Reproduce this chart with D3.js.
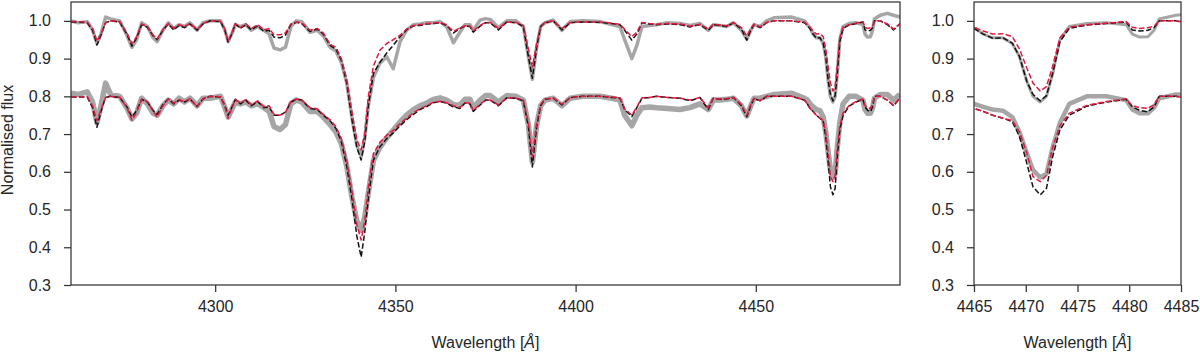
<!DOCTYPE html>
<html><head><meta charset="utf-8">
<script src="https://cdn.jsdelivr.net/npm/d3@7"></script>
<style>
html,body{margin:0;padding:0;background:#fff;}
svg text{font-family:"Liberation Sans",Arial,sans-serif;fill:#262626;}
</style></head>
<body><svg id="c" width="1200" height="353"></svg>
<script>
// Wavelength grid (Angstrom)
const wavelength = [4260.0,4262.0,4264.5,4266.0,4267.2,4268.3,4269.6,4271.0,4273.5,4275.5,4276.9,4278.2,4279.6,4281.2,4282.8,4283.9,4285.5,4287.0,4288.5,4290.0,4291.5,4293.0,4295.0,4296.6,4298.5,4301.5,4302.7,4303.6,4304.6,4305.6,4307.0,4308.5,4310.0,4311.8,4313.5,4315.0,4316.3,4318.0,4319.5,4321.0,4322.5,4324.0,4326.3,4328.3,4330.0,4331.9,4333.5,4335.0,4336.5,4338.0,4339.3,4340.5,4341.5,4342.5,4343.9,4345.7,4347.6,4349.4,4351.3,4353.1,4355.0,4356.8,4358.7,4360.5,4362.4,4364.2,4366.1,4367.9,4369.3,4370.7,4371.6,4373.5,4375.0,4376.3,4378.6,4380.9,4383.5,4385.5,4386.9,4388.0,4389.2,4390.3,4391.5,4393.8,4396.2,4398.5,4402.0,4406.8,4410.0,4412.3,4413.6,4415.6,4417.0,4418.4,4420.5,4422.5,4425.5,4429.0,4431.7,4434.5,4436.8,4438.2,4440.0,4441.9,4443.8,4446.0,4447.5,4448.6,4449.5,4451.2,4453.0,4455.0,4460.0,4463.5,4464.3,4465.0,4465.9,4466.8,4467.8,4468.7,4469.4,4470.1,4470.7,4471.4,4472.0,4472.6,4473.3,4474.2,4475.9,4477.8,4479.7,4480.3,4481.0,4481.8,4482.4,4482.9,4484.5,4486.5,4488.2,4490.0];

// Upper spectrum: model 1 (black dashed), model 2 (red dashed), observed (grey)
const upperModel1 = [0.997,0.997,0.995,0.975,0.936,0.962,0.995,1.000,0.997,0.965,0.933,0.955,0.990,0.983,0.960,0.950,0.975,0.992,0.976,0.988,0.982,0.992,0.975,0.992,1.000,0.998,0.975,0.944,0.965,0.992,0.980,0.990,0.976,0.987,0.972,0.975,0.957,0.955,0.962,0.990,0.996,0.993,0.972,0.978,0.965,0.935,0.925,0.895,0.835,0.735,0.665,0.631,0.680,0.775,0.860,0.890,0.915,0.935,0.958,0.976,0.987,0.988,0.992,0.993,0.995,0.988,0.968,0.980,0.986,0.985,0.970,0.986,0.995,0.995,0.976,0.997,0.995,0.985,0.905,0.848,0.930,0.985,0.995,1.000,0.976,0.995,0.997,0.996,0.993,0.990,0.975,0.949,0.965,0.995,0.992,0.990,0.992,0.990,0.984,0.990,0.975,0.990,0.988,0.985,0.995,0.978,0.949,0.975,0.990,0.982,0.995,1.000,1.000,0.995,0.988,0.980,0.965,0.954,0.955,0.941,0.905,0.840,0.805,0.788,0.802,0.860,0.945,0.980,0.989,0.993,0.997,0.976,0.973,0.975,0.982,1.000,1.000,0.990,0.976,0.992];
const upperModel2 = [0.998,0.998,0.997,0.980,0.946,0.965,0.995,1.000,0.998,0.968,0.940,0.958,0.992,0.985,0.962,0.952,0.977,0.993,0.980,0.990,0.985,0.993,0.977,0.993,1.000,0.999,0.978,0.946,0.967,0.993,0.982,0.992,0.980,0.990,0.976,0.980,0.963,0.963,0.968,0.992,0.997,0.995,0.975,0.980,0.968,0.938,0.930,0.900,0.845,0.755,0.685,0.658,0.700,0.800,0.880,0.922,0.940,0.950,0.962,0.978,0.988,0.990,0.993,0.994,0.996,0.990,0.972,0.982,0.987,0.986,0.973,0.988,0.996,0.996,0.980,0.997,0.996,0.988,0.925,0.878,0.940,0.987,0.996,1.000,0.980,0.996,0.997,0.997,0.994,0.991,0.978,0.958,0.970,0.996,0.993,0.991,0.993,0.992,0.986,0.991,0.978,0.991,0.989,0.987,0.995,0.982,0.960,0.980,0.991,0.984,0.996,1.000,1.000,0.997,0.990,0.983,0.973,0.965,0.966,0.958,0.925,0.875,0.835,0.814,0.826,0.880,0.955,0.983,0.990,0.994,0.998,0.983,0.980,0.982,0.986,1.000,1.000,0.992,0.978,0.993];
const upperObserved = [1.000,0.995,0.998,0.975,0.940,0.965,1.010,1.005,1.000,0.962,0.930,0.950,0.995,0.985,0.955,0.945,0.975,0.995,0.980,0.990,0.985,0.995,0.975,0.995,1.000,1.000,0.975,0.945,0.965,0.990,0.985,0.990,0.975,0.985,0.975,0.965,0.928,0.923,0.930,0.985,1.000,0.998,0.970,0.975,0.960,0.930,0.920,0.890,0.835,0.740,0.670,0.640,0.690,0.775,0.850,0.888,0.905,0.873,0.945,0.975,0.990,0.992,0.995,0.995,0.998,0.985,0.942,0.970,0.990,0.990,0.975,1.002,1.006,1.004,0.982,1.000,1.000,0.985,0.905,0.845,0.930,0.985,0.995,1.002,0.975,0.998,1.000,0.998,0.990,0.985,0.950,0.900,0.935,0.985,0.988,0.990,0.995,0.993,0.988,0.993,0.975,0.990,0.988,0.985,0.995,0.975,0.952,0.975,0.990,0.985,1.000,1.008,1.010,1.000,0.990,0.982,0.965,0.955,0.955,0.940,0.905,0.840,0.800,0.785,0.800,0.860,0.950,0.985,0.993,0.995,0.990,0.965,0.957,0.958,0.975,1.005,1.015,1.020,1.015,1.010];

// Lower spectrum (offset by -0.2)
const lowerModel1 = [0.798,0.798,0.798,0.770,0.718,0.760,0.797,0.800,0.797,0.772,0.745,0.762,0.792,0.785,0.762,0.752,0.778,0.793,0.780,0.790,0.785,0.793,0.773,0.793,0.800,0.798,0.775,0.750,0.770,0.792,0.780,0.790,0.775,0.786,0.770,0.772,0.750,0.750,0.758,0.785,0.792,0.790,0.768,0.765,0.750,0.735,0.715,0.680,0.615,0.525,0.430,0.374,0.440,0.530,0.631,0.666,0.688,0.703,0.722,0.738,0.752,0.765,0.773,0.783,0.786,0.782,0.772,0.768,0.782,0.780,0.760,0.777,0.790,0.790,0.775,0.796,0.795,0.788,0.720,0.613,0.720,0.775,0.792,0.795,0.777,0.797,0.800,0.800,0.797,0.795,0.765,0.746,0.770,0.795,0.797,0.800,0.797,0.795,0.788,0.797,0.765,0.795,0.792,0.793,0.797,0.775,0.746,0.775,0.795,0.788,0.800,0.800,0.800,0.790,0.780,0.768,0.760,0.750,0.742,0.733,0.693,0.623,0.560,0.539,0.556,0.640,0.711,0.750,0.774,0.785,0.792,0.772,0.763,0.759,0.772,0.800,0.800,0.790,0.775,0.795];
const lowerModel2 = [0.798,0.798,0.799,0.775,0.735,0.765,0.797,0.800,0.798,0.770,0.737,0.758,0.793,0.786,0.760,0.745,0.775,0.793,0.782,0.791,0.786,0.794,0.772,0.794,0.800,0.799,0.772,0.742,0.768,0.792,0.782,0.791,0.778,0.788,0.772,0.775,0.752,0.750,0.758,0.786,0.793,0.790,0.770,0.767,0.752,0.738,0.720,0.688,0.630,0.545,0.460,0.419,0.470,0.560,0.648,0.678,0.697,0.710,0.728,0.742,0.756,0.767,0.775,0.784,0.787,0.783,0.775,0.770,0.783,0.782,0.763,0.779,0.790,0.790,0.777,0.796,0.795,0.790,0.730,0.640,0.730,0.778,0.793,0.796,0.779,0.797,0.800,0.800,0.798,0.796,0.767,0.750,0.772,0.796,0.797,0.800,0.797,0.795,0.790,0.797,0.770,0.795,0.793,0.794,0.797,0.778,0.750,0.778,0.795,0.789,0.800,0.800,0.800,0.790,0.780,0.768,0.760,0.750,0.742,0.736,0.705,0.650,0.587,0.574,0.590,0.665,0.722,0.755,0.776,0.786,0.793,0.775,0.770,0.768,0.778,0.800,0.800,0.790,0.776,0.795];
const lowerObserved = [0.808,0.805,0.812,0.785,0.730,0.775,0.835,0.805,0.800,0.770,0.740,0.755,0.795,0.780,0.755,0.750,0.775,0.790,0.780,0.795,0.785,0.795,0.775,0.795,0.795,0.800,0.770,0.745,0.765,0.785,0.780,0.785,0.775,0.780,0.770,0.760,0.720,0.712,0.725,0.780,0.790,0.785,0.760,0.760,0.745,0.725,0.705,0.675,0.615,0.530,0.470,0.445,0.480,0.545,0.630,0.665,0.690,0.710,0.732,0.750,0.765,0.775,0.782,0.792,0.796,0.790,0.778,0.777,0.792,0.792,0.770,0.790,0.802,0.802,0.785,0.802,0.800,0.790,0.725,0.625,0.725,0.775,0.790,0.795,0.775,0.795,0.800,0.800,0.795,0.790,0.750,0.722,0.750,0.770,0.772,0.770,0.768,0.765,0.770,0.780,0.765,0.790,0.790,0.792,0.795,0.775,0.748,0.775,0.795,0.795,0.800,0.805,0.808,0.795,0.790,0.780,0.772,0.765,0.762,0.745,0.705,0.650,0.605,0.585,0.595,0.665,0.730,0.780,0.800,0.800,0.790,0.765,0.755,0.755,0.770,0.795,0.805,0.805,0.790,0.805];

const yTickValues = [0.3,0.4,0.5,0.6,0.7,0.8,0.9,1.0];
const leftXTicks = [4300,4350,4400,4450];
const rightXTicks = [4465,4470,4475,4480,4485];
const xLabel = "Wavelength [";
const yLabel = "Normalised flux";

const svg = d3.select("#c");
const plotTop = 2, plotBottom = 285;
const y = d3.scaleLinear().domain([0.3,1.05]).range([plotBottom, plotTop]);

function panel(id, x0, x1, domain, xticks, gw1, gw2) {
  const x = d3.scaleLinear().domain(domain).range([x0, x1]);
  const g = svg.append("g");
  svg.append("clipPath").attr("id", id).append("rect")
    .attr("x", x0).attr("y", plotTop).attr("width", x1 - x0).attr("height", plotBottom - plotTop);
  const plot = g.append("g").attr("clip-path", `url(#${id})`);
  const pts = arr => arr.map((v, i) => [wavelength[i], v]);
  const line = d3.line().x(d => x(d[0])).y(d => y(d[1]));
  const series = [
    {d: upperObserved, c: "#a6a6a6", w: gw1, dash: null},
    {d: lowerObserved, c: "#a6a6a6", w: gw2, dash: null},
    {d: upperModel1, c: "#111", w: 1.5, dash: "5.5,2.4"},
    {d: lowerModel1, c: "#111", w: 1.5, dash: "5.5,2.4"},
    {d: upperModel2, c: "#e8163c", w: 1.5, dash: "5.5,2.4"},
    {d: lowerModel2, c: "#e8163c", w: 1.5, dash: "5.5,2.4"}
  ];
  series.forEach(s => {
    plot.append("path").attr("d", line(pts(s.d))).attr("fill", "none")
      .attr("stroke", s.c).attr("stroke-width", s.w)
      .attr("stroke-linejoin", "round")
      .attr("stroke-dasharray", s.dash);
  });
  const xa = g.append("g").attr("transform", `translate(0,${plotBottom})`)
    .call(d3.axisBottom(x).tickValues(xticks).tickFormat(d3.format("d")).tickSize(7).tickPadding(9));
  const ya = g.append("g").attr("transform", `translate(${x0},0)`)
    .call(d3.axisLeft(y).tickValues(yTickValues).tickFormat(d3.format(".1f")).tickSize(7).tickPadding(13));
  [xa, ya].forEach(a => {
    a.select(".domain").remove();
    a.selectAll("line").attr("stroke", "#333").attr("stroke-width", 1.25);
    a.selectAll("text").attr("font-size", 16).attr("fill", "#262626")
      .attr("font-family", '"Liberation Sans",Arial,sans-serif');
  });
  g.append("rect").attr("x", x0).attr("y", plotTop).attr("width", x1 - x0).attr("height", plotBottom - plotTop)
    .attr("fill", "none").attr("stroke", "#333").attr("stroke-width", 1.25);
  const t = g.append("text").attr("x", (x0 + x1) / 2).attr("y", 348)
    .attr("text-anchor", "middle").attr("font-size", 16);
  t.append("tspan").text(xLabel);
  t.append("tspan").attr("font-style", "italic").text("Å");
  t.append("tspan").text("]");
}

panel("clipL", 71, 900, [4260, 4490], leftXTicks, 3.5, 5.5);
panel("clipR", 974, 1181, [4465, 4485], rightXTicks, 3, 4.5);

svg.append("text").attr("transform", "translate(13,140) rotate(-90)")
  .attr("text-anchor", "middle").attr("font-size", 16).text(yLabel);
</script></body></html>
